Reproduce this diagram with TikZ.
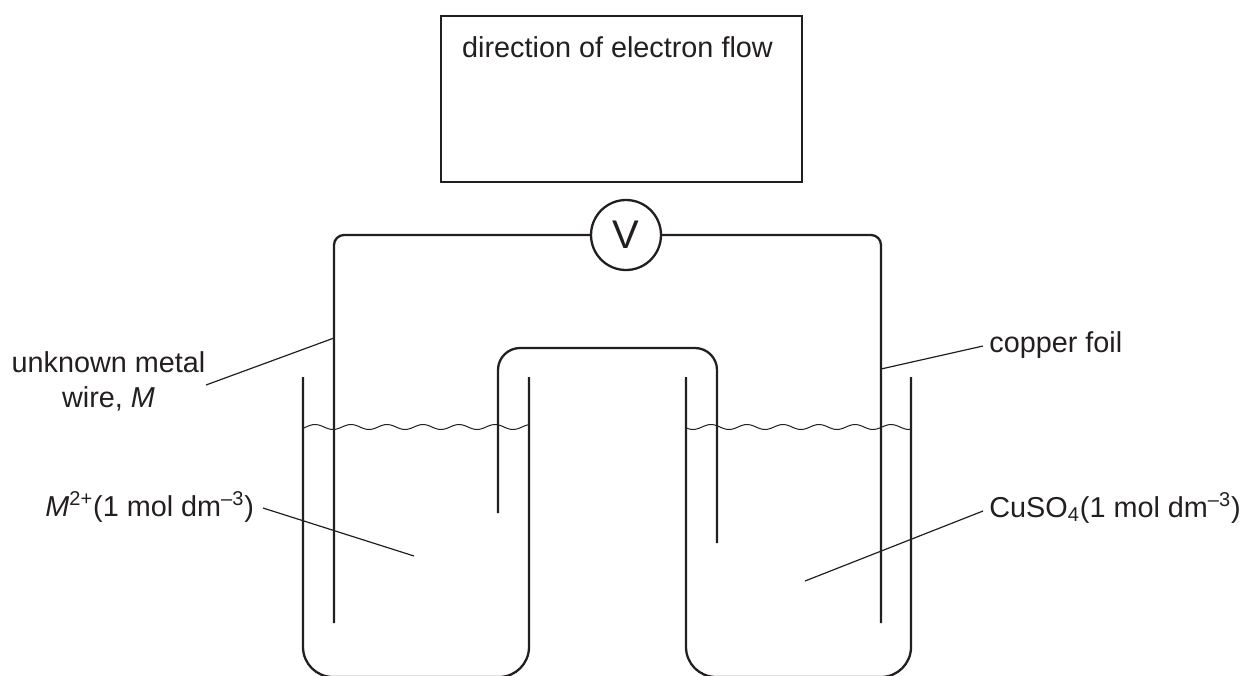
\documentclass[tikz,border=0pt]{standalone}
\usepackage{fontspec}
\setmainfont{Liberation Sans}
\definecolor{ink}{HTML}{231F20}
\begin{document}
\begin{tikzpicture}[x=0.5pt,y=-0.5pt,
  thick line/.style={draw=ink, line width=1.15pt},
  thin line/.style={draw=ink, line width=0.6pt},
  wave line/.style={draw=ink, line width=0.5pt},
  label text/.style={text=ink, inner sep=0pt, font=\fontsize{14.4}{17.5}\selectfont},
]
\useasboundingbox (0,0) rectangle (1245,675);
% answer box
\node[thick line, rectangle, minimum width=180.5pt, minimum height=83pt, inner sep=0pt] (box) at (621.5,99) {};
\node[label text, anchor=base] (title) at (617.5,57) {direction of electron flow};
% wires
\coordinate (wL) at (334,623);
\coordinate (wR) at (881,623);
\node[thick line, circle, fill=white, minimum size=35pt, inner sep=0pt, text=ink, font=\fontsize{20}{24}\selectfont] (V) at (626,235) {V};
\draw[thick line, rounded corners=5pt] (V.west) -| (wL);
\draw[thick line, rounded corners=5pt] (V.east) -| (wR);
% beakers
\draw[thick line, rounded corners=15pt] (303,377) -- (303,677) -- (529,677) -- (529,377);
\draw[thick line, rounded corners=15pt] (686,377) -- (686,677) -- (911,677) -- (911,377);
% salt bridge
\draw[thick line, rounded corners=11pt] (498,513) -- (498,348) -- (717,348) -- (717,543);
% liquid surfaces
\draw[wave line] plot[domain=303:529, samples=120, smooth] (\x, {427+2.5*sin(10*\x)});
\draw[wave line] plot[domain=686:911, samples=120, smooth] (\x, {427+2.5*sin(10*\x)});
% labels
\node[label text, anchor=base, align=center] (lblM) at (108.5,407) {unknown metal\\wire, \textit{M}};
\coordinate (lblMend) at (206,385);
\coordinate (wireMpt) at (334,338);
\draw[thin line] (lblMend) -- (wireMpt);

\node[label text, anchor=base west] (lblCu) at (989,352) {copper foil};
\coordinate (lblCuend) at (983,346);
\coordinate (wireCupt) at (881,369);
\draw[thin line] (lblCuend) -- (wireCupt);

\node[label text, anchor=base west] (lblMsol) at (45,516) {\textit{M}\textsuperscript{2+}(1 mol dm\textsuperscript{–3})};
\coordinate (lblMsolend) at (263,508);
\coordinate (solMpt) at (414,556);
\draw[thin line] (lblMsolend) -- (solMpt);

\node[label text, anchor=base west] (lblCusol) at (989,517) {CuSO\textsubscript{4}(1 mol dm\textsuperscript{–3})};
\coordinate (lblCusolend) at (983,511);
\coordinate (solCupt) at (805,581);
\draw[thin line] (lblCusolend) -- (solCupt);
\end{tikzpicture}
\end{document}
